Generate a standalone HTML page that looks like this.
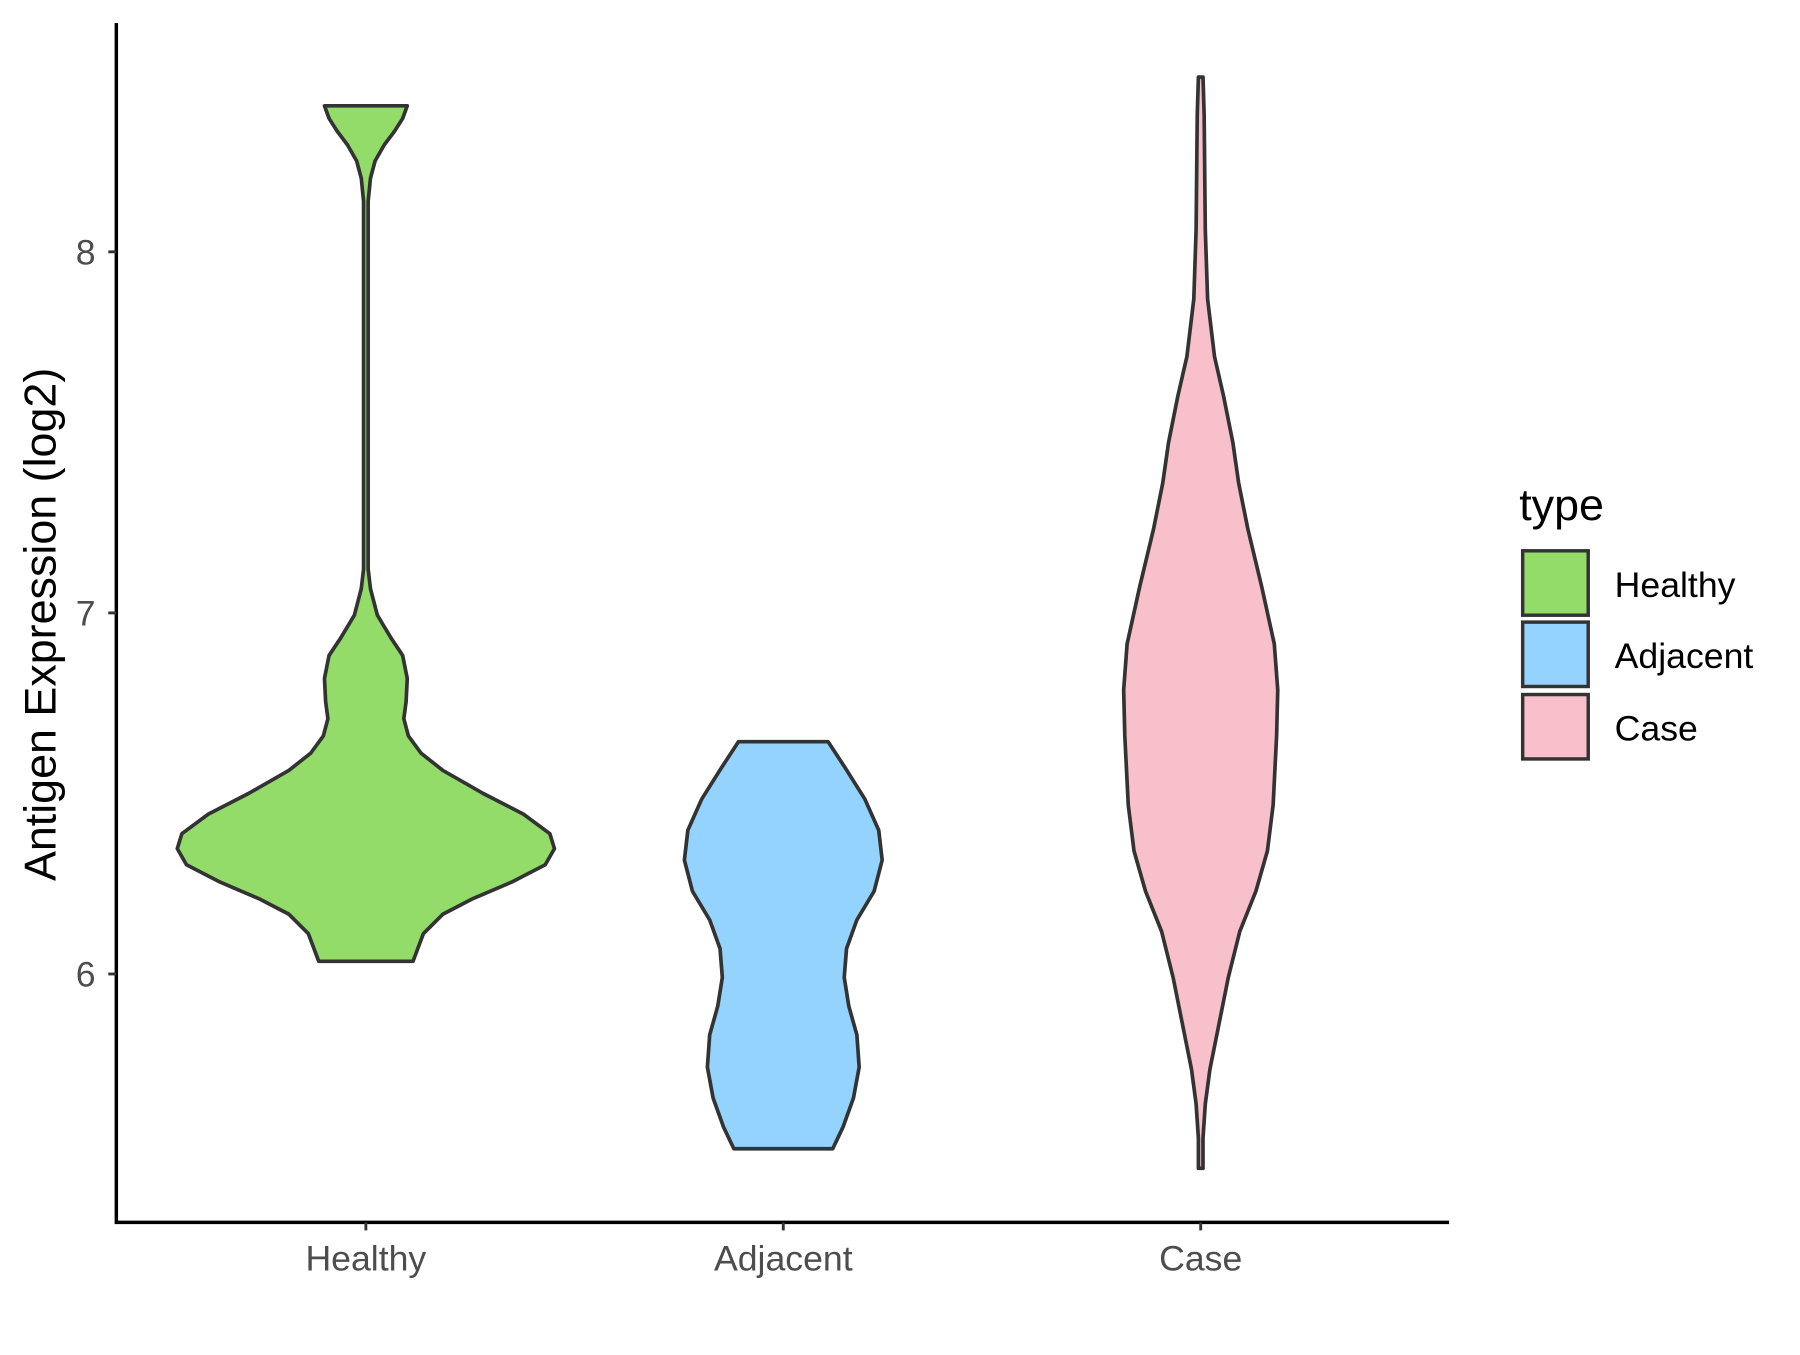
<!DOCTYPE html>
<html><head><style>html,body{margin:0;padding:0;background:#fff}</style></head>
<body>
<svg width="1800" height="1350" viewBox="0 0 1565 1174" xmlns="http://www.w3.org/2000/svg" font-family="Liberation Sans, Arial, sans-serif">
<rect width="1565" height="1174" fill="#fff"/>
<g stroke="#333" stroke-width="3.2" stroke-linejoin="round">
<polygon fill="#93DC69" points="354,92 350,103 343,114 334,126 326,140 322,155 320,175 320,190 320,495 322,512 328,535 340,555 350,570 354,590 353,610 351,625 355,640 366,655 385,670 420,690 455,708 478,725 482,738 474,752 445,767 410,782 385,795 368,812 362,828 359,836 277,836 274,828 268,812 251,795 226,782 191,767 162,752 154,738 158,725 181,708 216,690 251,670 270,655 281,640 285,625 283,610 282,590 286,570 296,555 308,535 314,512 316,495 316,190 316,175 314,155 310,140 302,126 293,114 286,103 282,92"/>
<polygon fill="#93D3FD" points="720,645 735,668 752,695 764,722 767,748 760,775 745,800 736,825 734,850 738,875 745,900 747,928 742,955 733,980 724,999 638,999 629,980 620,955 615,928 617,900 624,875 628,850 626,825 617,800 602,775 595,748 598,722 610,695 627,668 642,645"/>
<polygon fill="#F7C0CB" points="1046,67 1047,100 1048,200 1050,260 1056,310 1064,345 1072,385 1077,420 1085,460 1097,510 1108,560 1111,600 1110,640 1107,700 1102,740 1092,775 1078,810 1068,850 1060,890 1052,930 1048,960 1046,990 1046,1016 1042,1016 1042,990 1040,960 1036,930 1028,890 1020,850 1010,810 996,775 986,740 981,700 978,640 977,600 980,560 991,510 1003,460 1011,420 1016,385 1024,345 1032,310 1038,260 1040,200 1041,100 1042,67"/>
</g>
<g stroke="#000" stroke-width="3" fill="none">
<polyline points="101,20 101,1063 1260,1063"/>
</g>
<g stroke="#333" stroke-width="2.5">
<line x1="94" y1="219" x2="101" y2="219"/><line x1="94" y1="533" x2="101" y2="533"/><line x1="94" y1="847" x2="101" y2="847"/>
<line x1="318" y1="1063" x2="318" y2="1070"/><line x1="681" y1="1063" x2="681" y2="1070"/><line x1="1044" y1="1063" x2="1044" y2="1070"/>
</g>
<g fill="#4d4d4d" font-size="31">
<text x="83" y="230" text-anchor="end">8</text>
<text x="83" y="544" text-anchor="end">7</text>
<text x="83" y="858" text-anchor="end">6</text>
<text x="318" y="1105" text-anchor="middle">Healthy</text>
<text x="681" y="1105" text-anchor="middle">Adjacent</text>
<text x="1044" y="1105" text-anchor="middle">Case</text>
</g>
<text transform="translate(48,543) rotate(-90)" text-anchor="middle" font-size="39" fill="#000">Antigen Expression (log2)</text>
<text x="1321" y="452" font-size="39" fill="#000">type</text>
<g stroke="#333" stroke-width="3">
<rect x="1324" y="479" width="57" height="56" fill="#93DC69"/>
<rect x="1324" y="541" width="57" height="56" fill="#93D3FD"/>
<rect x="1324" y="604" width="57" height="56" fill="#F7C0CB"/>
</g>
<g font-size="31" fill="#000">
<text x="1404" y="519">Healthy</text>
<text x="1404" y="581">Adjacent</text>
<text x="1404" y="644">Case</text>
</g>
</svg>
</body></html>
